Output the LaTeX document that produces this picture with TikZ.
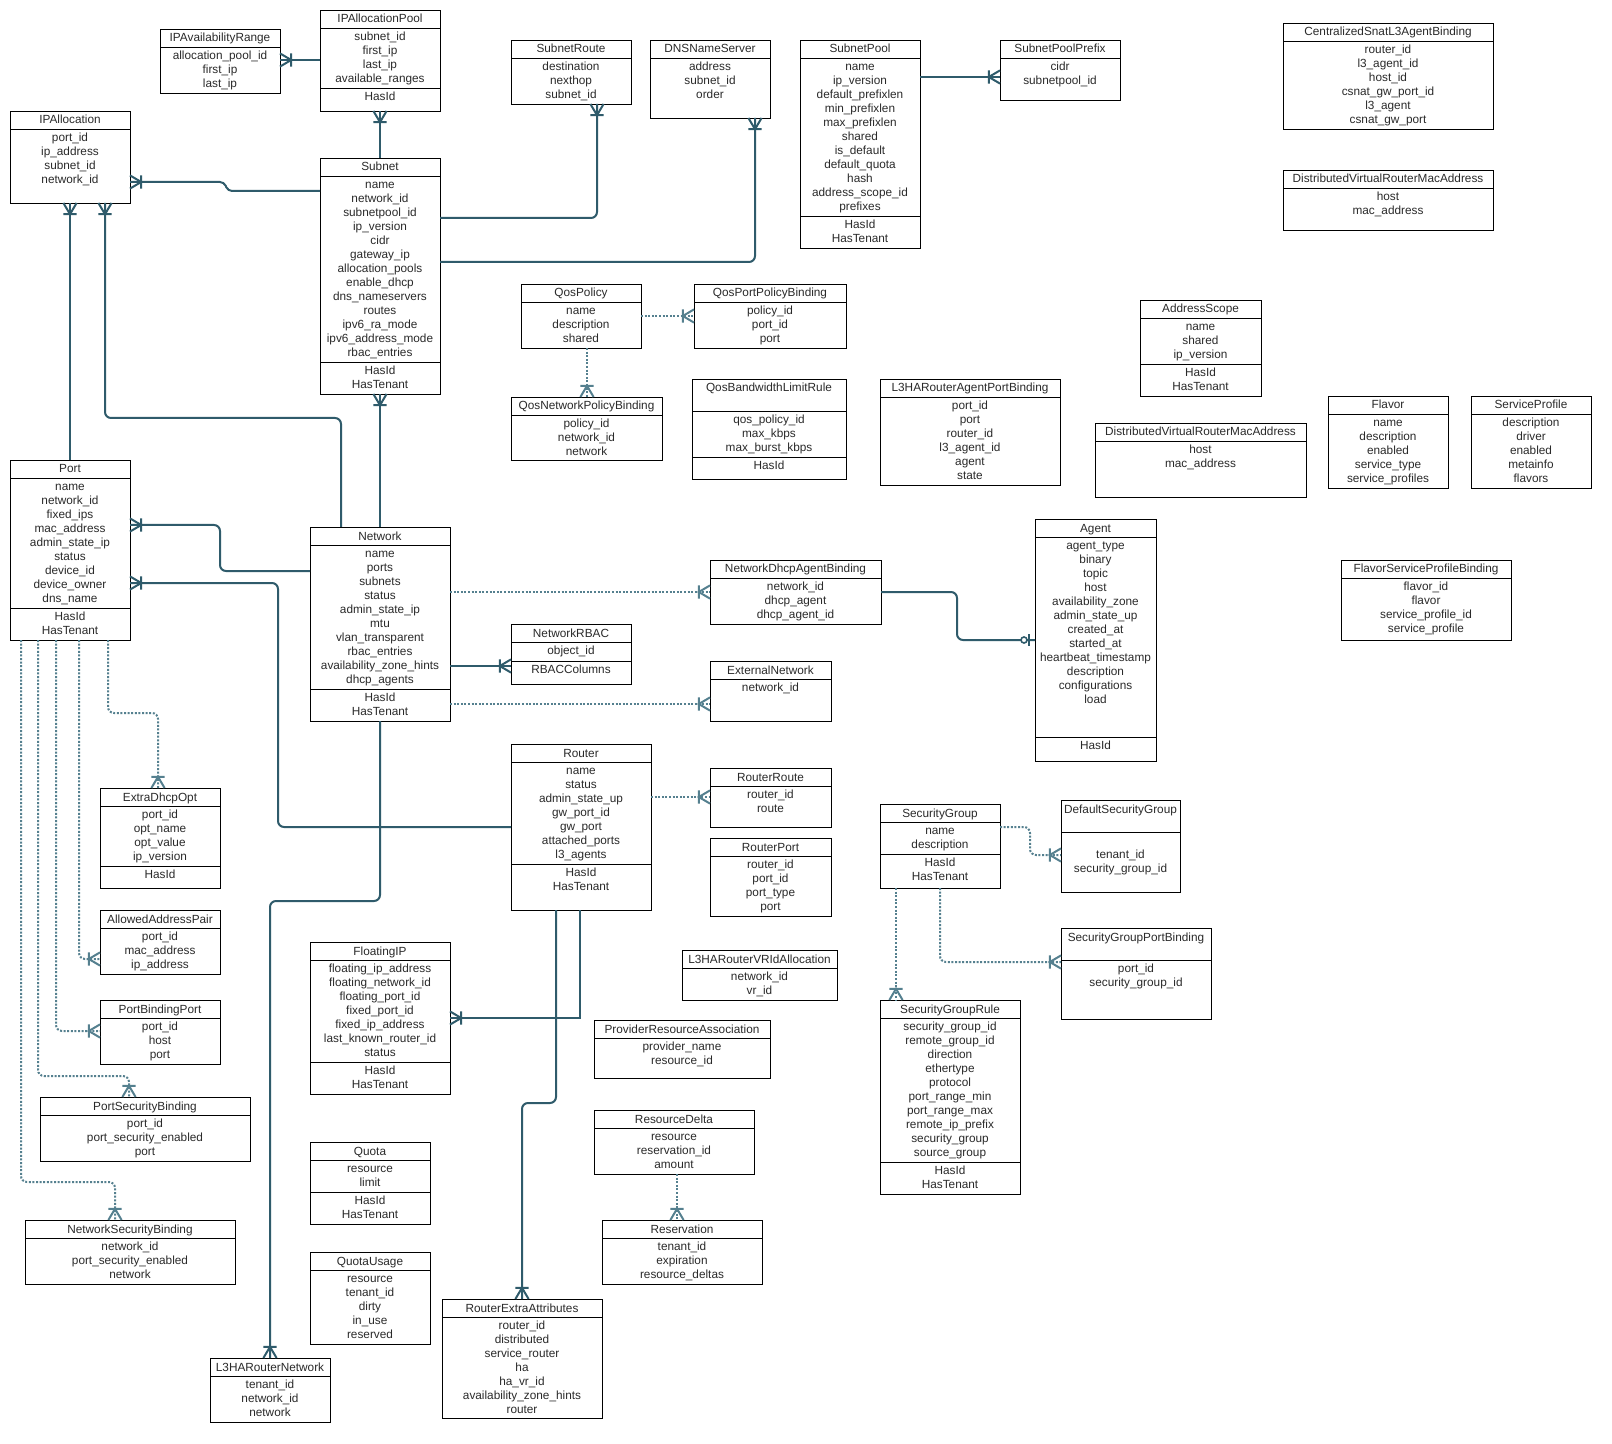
\documentclass[tikz,border=0pt]{standalone}
\usepackage{fontspec}
\setmainfont{Liberation Sans}
\usetikzlibrary{arrows.meta}
\definecolor{linec}{HTML}{2F5B6B}
\definecolor{dotc}{HTML}{55808F}
\definecolor{txtc}{HTML}{2A2A2A}
\pgfdeclarearrow{
  name = crow,
  setup code = {
    \pgfarrowssettipend{0pt}
    \pgfarrowssetlineend{0pt}
    \pgfarrowssetvisualbackend{-5.6pt}
    \pgfarrowssetbackend{-5.6pt}
    \pgfarrowshullpoint{0pt}{3.3pt}
    \pgfarrowshullpoint{0pt}{-3.3pt}
    \pgfarrowshullpoint{-5.6pt}{3.3pt}
    \pgfarrowshullpoint{-5.6pt}{-3.3pt}
  },
  drawing code = {
    \pgfsetdash{}{0pt}
    \pgfpathmoveto{\pgfqpoint{0pt}{3.3pt}}
    \pgfpathlineto{\pgfqpoint{-5.6pt}{0pt}}
    \pgfpathlineto{\pgfqpoint{0pt}{-3.3pt}}
    \pgfpathmoveto{\pgfqpoint{-5.6pt}{3.3pt}}
    \pgfpathlineto{\pgfqpoint{-5.6pt}{-3.3pt}}
    \pgfusepathqstroke
  }
}
\pgfdeclarearrow{
  name = zbar,
  setup code = {
    \pgfarrowssettipend{0pt}
    \pgfarrowssetlineend{0pt}
    \pgfarrowssetvisualbackend{-3pt}
    \pgfarrowssetbackend{-3pt}
    \pgfarrowshullpoint{-3pt}{3pt}
    \pgfarrowshullpoint{-3pt}{-3pt}
  },
  drawing code = {
    \pgfsetdash{}{0pt}
    \pgfpathmoveto{\pgfqpoint{-3pt}{3pt}}
    \pgfpathlineto{\pgfqpoint{-3pt}{-3pt}}
    \pgfusepathqstroke
  }
}
\newcommand\lblfont{\fontsize{5.9pt}{7pt}\selectfont}
\tikzset{
  ent/.style={draw=black, line width=0.45pt, inner sep=0pt, outer sep=0pt, rectangle},
  sepline/.style={draw=black, line width=0.45pt},
  lbl/.style={font=\lblfont, anchor=base, inner sep=0pt, text=txtc},
  conn/.style={draw=linec, line width=1pt, rounded corners=3pt, -crow},
  dconn/.style={draw=dotc, line width=1pt, dash pattern=on 1pt off 0.8pt, rounded corners=3pt, -crow},
  zcirc/.style={circle, draw=linec, fill=white, line width=0.8pt, minimum size=3pt, inner sep=0pt}
}
% #1 name, #2 x, #3 y, #4 w, #5 h, #6 title row height, #7 title, #8 attributes
\newcommand\ent[8]{%
  \node[ent, anchor=north west, minimum width=#4*0.5pt, minimum height=#5*0.5pt] (#1) at (#2,#3) {};
  \draw[sepline] (#2,#3+#6) -- (#2+#4,#3+#6);
  \node[lbl] at (#2+#4/2,#3+13) {#7};
  \foreach \a [count=\i] in {#8} {\node[lbl] at (#2+#4/2,#3+#6+12.5+14*\i-14) {\a};}
}
% #1 name, #2 divider y, #3 mixins
\newcommand\mix[3]{%
  \draw[sepline] (#1.west |- 0,#2) -- (#1.east |- 0,#2);
  \foreach \a [count=\i] in {#3} {\pgfmathsetmacro\yy{#2+12.5+14*\i-14}\node[lbl] at (#1.north |- 0,\yy) {\a};}
}
\begin{document}
\begin{tikzpicture}[x=0.5pt, y=-0.5pt]
\fill[white] (0,0) rectangle (1612,1444);
\useasboundingbox (0,0) rectangle (1612,1444);

\ent{iprange}{160}{29}{120}{64}{18}{IPAvailabilityRange}{allocation\_pool\_id,first\_ip,last\_ip}
\ent{ippool}{320}{10}{120}{101}{18}{IPAllocationPool}{subnet\_id,first\_ip,last\_ip,available\_ranges}
\mix{ippool}{88}{HasId}
\ent{ipalloc}{10}{111}{120}{92}{18}{IPAllocation}{port\_id,ip\_address,subnet\_id,network\_id}
\ent{subnet}{320}{158}{120}{236}{18}{Subnet}{name,network\_id,subnetpool\_id,ip\_version,cidr,gateway\_ip,allocation\_pools,enable\_dhcp,dns\_nameservers,routes,ipv6\_ra\_mode,ipv6\_address\_mode,rbac\_entries}
\mix{subnet}{362}{HasId,HasTenant}
\ent{subnetroute}{511}{40}{120}{64}{18}{SubnetRoute}{destination,nexthop,subnet\_id}
\ent{dns}{650}{40}{120}{78}{18}{DNSNameServer}{address,subnet\_id,order}
\ent{subnetpool}{800}{40}{120}{208}{18}{SubnetPool}{name,ip\_version,default\_prefixlen,min\_prefixlen,max\_prefixlen,shared,is\_default,default\_quota,hash,address\_scope\_id,prefixes}
\mix{subnetpool}{216}{HasId,HasTenant}
\ent{poolprefix}{1000}{40}{120}{60}{18}{SubnetPoolPrefix}{cidr,subnetpool\_id}
\ent{csnat}{1283}{23}{210}{106}{18}{CentralizedSnatL3AgentBinding}{router\_id,l3\_agent\_id,host\_id,csnat\_gw\_port\_id,l3\_agent,csnat\_gw\_port}
\ent{dvrA}{1283}{170}{210}{60}{18}{DistributedVirtualRouterMacAddress}{host,mac\_address}
\ent{qospolicy}{521}{284}{120}{64}{18}{QosPolicy}{name,description,shared}
\ent{qosport}{694}{284}{152}{64}{18}{QosPortPolicyBinding}{policy\_id,port\_id,port}
\ent{qosnet}{511}{397}{151}{63}{18}{QosNetworkPolicyBinding}{policy\_id,network\_id,network}
\ent{qosbw}{692}{379}{154}{100}{32}{QosBandwidthLimitRule}{qos\_policy\_id,max\_kbps,max\_burst\_kbps}
\mix{qosbw}{457}{HasId}
\ent{l3haport}{880}{379}{180}{106}{18}{L3HARouterAgentPortBinding}{port\_id,port,router\_id,l3\_agent\_id,agent,state}
\ent{addrscope}{1140}{300}{121}{96}{18}{AddressScope}{name,shared,ip\_version}
\mix{addrscope}{364}{HasId,HasTenant}
\ent{dvrB}{1095}{423}{211}{74}{18}{DistributedVirtualRouterMacAddress}{host,mac\_address}
\ent{flavor}{1328}{396}{120}{92}{18}{Flavor}{name,description,enabled,service\_type,service\_profiles}
\ent{svcprofile}{1471}{396}{120}{92}{18}{ServiceProfile}{description,driver,enabled,metainfo,flavors}
\ent{port}{10}{460}{120}{180}{18}{Port}{name,network\_id,fixed\_ips,mac\_address,admin\_state\_ip,status,device\_id,device\_owner,dns\_name}
\mix{port}{608}{HasId,HasTenant}
\ent{network}{310}{527}{140}{194}{18}{Network}{name,ports,subnets,status,admin\_state\_ip,mtu,vlan\_transparent,rbac\_entries,availability\_zone\_hints,dhcp\_agents}
\mix{network}{689}{HasId,HasTenant}
\ent{ndab}{710}{560}{171}{64}{18}{NetworkDhcpAgentBinding}{network\_id,dhcp\_agent,dhcp\_agent\_id}
\ent{agent}{1035}{519}{121}{242}{18}{Agent}{agent\_type,binary,topic,host,availability\_zone,admin\_state\_up,created\_at,started\_at,heartbeat\_timestamp,description,configurations,load}
\mix{agent}{737}{HasId}
\ent{fspb}{1341}{560}{170}{80}{18}{FlavorServiceProfileBinding}{flavor\_id,flavor,service\_profile\_id,service\_profile}
\ent{netrbac}{511}{624}{120}{60}{18}{NetworkRBAC}{object\_id}
\mix{netrbac}{661}{RBACColumns}
\ent{extnet}{710}{661}{121}{60}{18}{ExternalNetwork}{network\_id}
\ent{router}{511}{744}{140}{166}{18}{Router}{name,status,admin\_state\_up,gw\_port\_id,gw\_port,attached\_ports,l3\_agents}
\mix{router}{864}{HasId,HasTenant}
\ent{routerroute}{710}{768}{121}{59}{18}{RouterRoute}{router\_id,route}
\ent{routerport}{710}{838}{121}{78}{18}{RouterPort}{router\_id,port\_id,port\_type,port}
\ent{secgroup}{880}{804}{120}{84}{18}{SecurityGroup}{name,description}
\mix{secgroup}{854}{HasId,HasTenant}
\ent{defsg}{1061}{800}{119}{92}{32}{DefaultSecurityGroup}{\mbox{},tenant\_id,security\_group\_id}
\ent{sgpb}{1061}{928}{150}{91}{32}{SecurityGroupPortBinding}{port\_id,security\_group\_id}
\ent{extradhcp}{100}{788}{120}{100}{18}{ExtraDhcpOpt}{port\_id,opt\_name,opt\_value,ip\_version}
\mix{extradhcp}{866}{HasId}
\ent{aap}{100}{910}{120}{64}{18}{AllowedAddressPair}{port\_id,mac\_address,ip\_address}
\ent{floatingip}{310}{942}{140}{152}{18}{FloatingIP}{floating\_ip\_address,floating\_network\_id,floating\_port\_id,fixed\_port\_id,fixed\_ip\_address,last\_known\_router\_id,status}
\mix{floatingip}{1062}{HasId,HasTenant}
\ent{l3havrid}{682}{950}{155}{50}{18}{L3HARouterVRIdAllocation}{network\_id,vr\_id}
\ent{sgr}{880}{1000}{140}{194}{18}{SecurityGroupRule}{security\_group\_id,remote\_group\_id,direction,ethertype,protocol,port\_range\_min,port\_range\_max,remote\_ip\_prefix,security\_group,source\_group}
\mix{sgr}{1162}{HasId,HasTenant}
\ent{pbp}{100}{1000}{120}{64}{18}{PortBindingPort}{port\_id,host,port}
\ent{pra}{594}{1020}{176}{58}{18}{ProviderResourceAssociation}{provider\_name,resource\_id}
\ent{psb}{40}{1097}{210}{64}{18}{PortSecurityBinding}{port\_id,port\_security\_enabled,port}
\ent{resdelta}{594}{1110}{160}{64}{18}{ResourceDelta}{resource,reservation\_id,amount}
\ent{quota}{310}{1142}{120}{82}{18}{Quota}{resource,limit}
\mix{quota}{1192}{HasId,HasTenant}
\ent{nsb}{25}{1220}{210}{64}{18}{NetworkSecurityBinding}{network\_id,port\_security\_enabled,network}
\ent{reservation}{602}{1220}{160}{64}{18}{Reservation}{tenant\_id,expiration,resource\_deltas}
\ent{quotausage}{310}{1252}{120}{92}{18}{QuotaUsage}{resource,tenant\_id,dirty,in\_use,reserved}
\ent{rea}{442}{1299}{160}{119}{18}{RouterExtraAttributes}{router\_id,distributed,service\_router,ha,ha\_vr\_id,availability\_zone\_hints,router}
\ent{l3hanet}{210}{1358}{120}{64}{18}{L3HARouterNetwork}{tenant\_id,network\_id,network}

% connectors
\draw[conn] (ippool.west |- 0,60) -- (iprange.east |- 0,60);
\draw[conn] (subnet.north -| 380,0) -- (ippool.south -| 380,0);
\draw[conn, rounded corners=2pt] (subnet.west |- 0,191) -- (228,191) -- (224,182) -- (ipalloc.east |- 0,182);
\draw[conn] (port.north -| 70,0) -- (ipalloc.south -| 70,0);
\draw[conn] (network.north -| 341,0) -- (341,418) -- (105,418) -- (ipalloc.south -| 105,0);
\draw[conn] (network.north -| 380,0) -- (subnet.south -| 380,0);
\draw[conn] (subnet.east |- 0,218) -- (597,218) -- (subnetroute.south -| 597,0);
\draw[conn] (subnet.east |- 0,262) -- (755,262) -- (dns.south -| 755,0);
\draw[conn] (subnetpool.east |- 0,77) -- (poolprefix.west |- 0,77);
\draw[dconn] (qospolicy.east |- 0,316) -- (qosport.west |- 0,316);
\draw[dconn] (qospolicy.south -| 587,0) -- (qosnet.north -| 587,0);
\draw[conn] (network.west |- 0,571) -- (220,571) -- (220,525) -- (port.east |- 0,525);
\draw[conn] (router.west |- 0,827) -- (278,827) -- (278,583) -- (port.east |- 0,583);
\draw[conn] (network.south -| 380,0) -- (380,901) -- (270,901) -- (l3hanet.north -| 270,0);
\draw[dconn] (network.east |- 0,592) -- (ndab.west |- 0,592);
\draw[conn] (network.east |- 0,666) -- (netrbac.west |- 0,666);
\draw[dconn] (network.east |- 0,704) -- (extnet.west |- 0,704);
\draw[conn, -zbar] (ndab.east |- 0,592) -- (957,592) -- (957,640) -- (agent.west |- 0,640);
\node[zcirc] (zo) at (1024,640) {};
\draw[dconn] (router.east |- 0,797) -- (routerroute.west |- 0,797);
\draw[conn, sharp corners] (router.south -| 580,0) -- (580,1018) -- (floatingip.east |- 0,1018);
\draw[conn] (router.south -| 556,0) -- (556,1103) -- (522,1103) -- (rea.north -| 522,0);
\draw[dconn] (port.south -| 108,0) -- (108,713) -- (158,713) -- (extradhcp.north -| 158,0);
\draw[dconn] (port.south -| 79,0) -- (79,959) -- (aap.west |- 0,959);
\draw[dconn] (port.south -| 56,0) -- (56,1031) -- (pbp.west |- 0,1031);
\draw[dconn] (port.south -| 38,0) -- (38,1076) -- (129,1076) -- (psb.north -| 129,0);
\draw[dconn] (port.south -| 21,0) -- (21,1182) -- (115,1182) -- (nsb.north -| 115,0);
\draw[dconn] (resdelta.south -| 677,0) -- (reservation.north -| 677,0);
\draw[dconn] (secgroup.east |- 0,827) -- (1030,827) -- (1030,855) -- (defsg.west |- 0,855);
\draw[dconn] (secgroup.south -| 940,0) -- (940,962) -- (sgpb.west |- 0,962);
\draw[dconn] (secgroup.south -| 896,0) -- (sgr.north -| 896,0);
\end{tikzpicture}
\end{document}
